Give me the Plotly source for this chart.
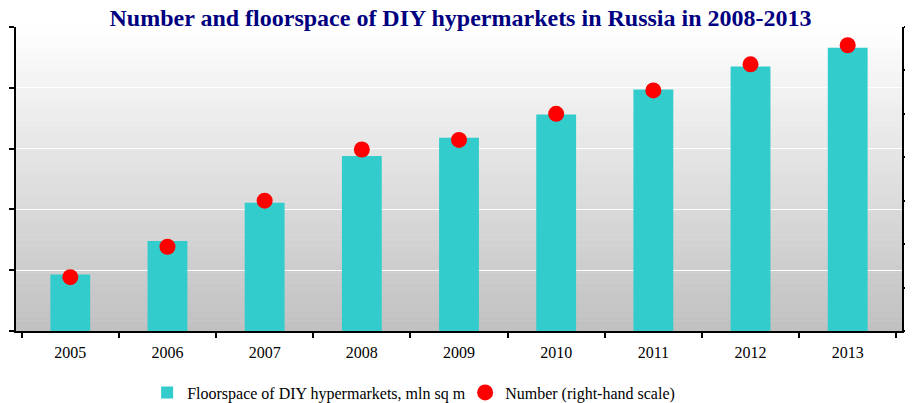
import plotly.graph_objects as go

years = ["2005", "2006", "2007", "2008", "2009", "2010", "2011", "2012", "2013"]
floorspace = [0.93, 1.48, 2.11, 2.88, 3.18, 3.56, 3.97, 4.35, 4.66]
number = [62, 97, 150, 209, 220, 250, 277, 307, 329]

bar_name = "Floorspace of DIY hypermarkets, mln sq m"
dot_name = "Number (right-hand scale)"

FONT = "Liberation Serif, Times New Roman, serif"

fig = go.Figure()
fig.add_trace(go.Bar(x=years, y=floorspace, name=bar_name,
                     marker=dict(color="#33CCCC", line=dict(width=0)),
                     yaxis="y"))
fig.add_trace(go.Scatter(x=years, y=number, name=dot_name, mode="markers",
                         marker=dict(color="#FF0000", size=16),
                         yaxis="y2"))

# vertical gradient background (white -> light gray)
n = 120
shapes = []
for i in range(n):
    f = (i + 0.5) / n
    v = int(round(192 + (255 - 192) * f))
    shapes.append(dict(type="rect", xref="x domain", yref="y domain",
                       x0=0, x1=1, y0=i / n, y1=(i + 1) / n + 0.002,
                       fillcolor=f"rgb({v},{v},{v})", line=dict(width=0),
                       layer="below"))

# page body has an 8px default margin, so the figure is sized to fit the window
fig.update_layout(
    width=905, height=395,
    margin=dict(l=8, r=11, t=19, b=72, autoexpand=False),
    paper_bgcolor="white", plot_bgcolor="rgba(0,0,0,0)",
    shapes=shapes,
    bargap=0.59,
    font=dict(family=FONT, size=16, color="black"),
    title=dict(text="<b>Number and floorspace of DIY hypermarkets in Russia in 2008-2013</b>",
               x=0.5, xanchor="center", y=0.975, yanchor="middle",
               font=dict(family=FONT, size=24, color="#000080")),
    xaxis=dict(showline=True, linecolor="black", linewidth=2, automargin=False,
               ticks="outside", ticklen=5, tickwidth=2, tickcolor="black",
               tickson="boundaries", showgrid=False, ticklabelstandoff=6,
               tickfont=dict(family=FONT, size=16, color="black")),
    yaxis=dict(range=[0, 5], dtick=1, showticklabels=False, automargin=False,
               showline=True, linecolor="black", linewidth=2,
               ticks="outside", ticklen=5, tickwidth=2, tickcolor="black",
               showgrid=True, gridcolor="white", gridwidth=1, zeroline=False),
    yaxis2=dict(range=[0, 350], dtick=50, showticklabels=False, overlaying="y",
                side="right", showline=True, linecolor="black", linewidth=2,
                automargin=False,
                ticks="outside", ticklen=5, tickwidth=2, tickcolor="black",
                showgrid=False, zeroline=False),
    legend=dict(orientation="h", x=0.148, xanchor="left", y=-0.2025, yanchor="middle",
                entrywidth=273, entrywidthmode="pixels",
                font=dict(family=FONT, size=16, color="black"),
                bgcolor="rgba(0,0,0,0)"),
    showlegend=True,
)

fig.write_html("out.html")
